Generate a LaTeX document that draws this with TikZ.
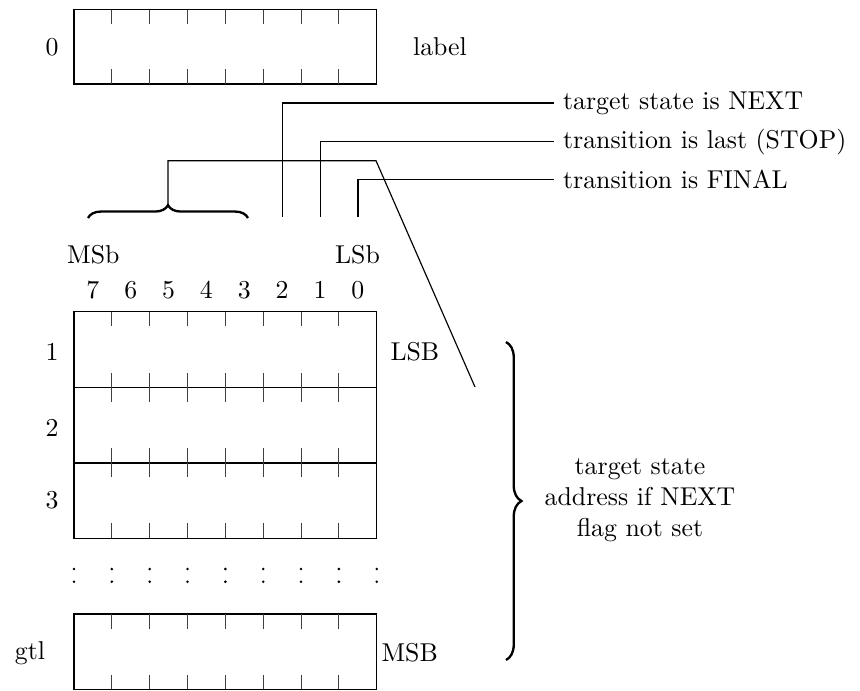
\documentclass[tikz,border=0pt]{standalone}
\usetikzlibrary{decorations.pathreplacing}
\begin{document}
\begin{tikzpicture}[x=0.3876pt,y=-0.3876pt,
  boxline/.style={draw,line width=0.6pt,inner sep=0pt,outer sep=0pt,anchor=north west,minimum width=117.33pt},
  tick/.style={line width=0.4pt,black!75},
  conn/.style={line width=0.45pt},
  brc/.style={decorate,line width=0.9pt},
  lbl/.style={inner sep=0pt}]
\useasboundingbox (0,0) rectangle (860,690);
% top box
\node[boxline,minimum height=28.88pt] (lab) at (74,9.5) {};
\foreach \i in {1,...,7}{
  \draw[tick] (74+\i*37.84,9.5) -- ++(0,14.7);
  \draw[tick] (74+\i*37.84,84) -- ++(0,-14.7);
}
\node[lbl] (n0) at (52,47) {0};
\node[lbl] (nlabel) at (440,47) {label};
% rows
\node[boxline,minimum height=29.3pt] (r1) at (74,311.7) {};
\node[boxline,minimum height=29.3pt] (r2) at (74,387.3) {};
\node[boxline,minimum height=29.3pt] (r3) at (74,462.7) {};
\node[boxline,minimum height=29.2pt] (rg) at (74,614) {};
\foreach \t/\b in {311.7/387.3,387.3/462.7,462.7/538,614/689.3}{
  \foreach \i in {1,...,7}{
    \draw[tick] (74+\i*37.84,\t) -- ++(0,14.7);
    \draw[tick] (74+\i*37.84,\b) -- ++(0,-14.7);
  }
}
\node[lbl] (n1) at (52,351.7) {1};
\node[lbl] (n2) at (52,428) {2};
\node[lbl] (n3) at (52,500) {3};
\node[lbl] (ngtl) at (30,653) {gtl};
\node[lbl,anchor=west] (lsb) at (390,351.7) {LSB};
\node[lbl,anchor=west] (msb) at (381,653) {MSB};
% dots
\foreach \i in {0,...,8}{
  \fill (74+\i*37.84,569) circle (0.55pt);
  \fill (74+\i*37.84,581.7) circle (0.55pt);
}
% bit numbers
\foreach \d [count=\k from 0] in {7,6,5,4,3,2,1,0}{
  \node[lbl] (bit\d) at (74+18.92+\k*37.84,290) {\d};
}
\node[lbl] (msbit) at (93.3,255) {MSb};
\node[lbl] (lsbit) at (357.5,255) {LSb};
% flag labels
\node[anchor=west] (tnext) at (554,103) {target state is NEXT};
\node[anchor=west] (tstop) at (554,141.7) {transition is last (STOP)};
\node[anchor=west] (tfinal) at (554,179.3) {transition is FINAL};
\coordinate (c2) at (282.4,216.7);
\coordinate (c1) at (320.2,216.7);
\coordinate (c0) at (358,216.7);
\draw[conn] (c2) |- (tnext.west);
\draw[conn] (c1) |- (tstop.west);
\draw[conn] (c0) |- (tfinal.west);
% upper brace
\coordinate (bl) at (88,218);
\coordinate (br) at (248,218);
\draw[brc,decoration={brace,amplitude=5pt}] (bl) -- (br);
\coordinate (btip) at (168,205);
\coordinate (bend) at (376,160.7);
\coordinate (bfoot) at (475,387);
\draw[conn] (btip) |- (bend) -- (bfoot);
% right brace
\coordinate (rt) at (506,342);
\coordinate (rb) at (506,660);
\draw[brc,decoration={brace,amplitude=6pt}] (rt) -- (rb);
\node[align=center,inner sep=0pt] (addr) at (640,500) {target state\\address if NEXT\\flag not set};
\end{tikzpicture}
\end{document}
